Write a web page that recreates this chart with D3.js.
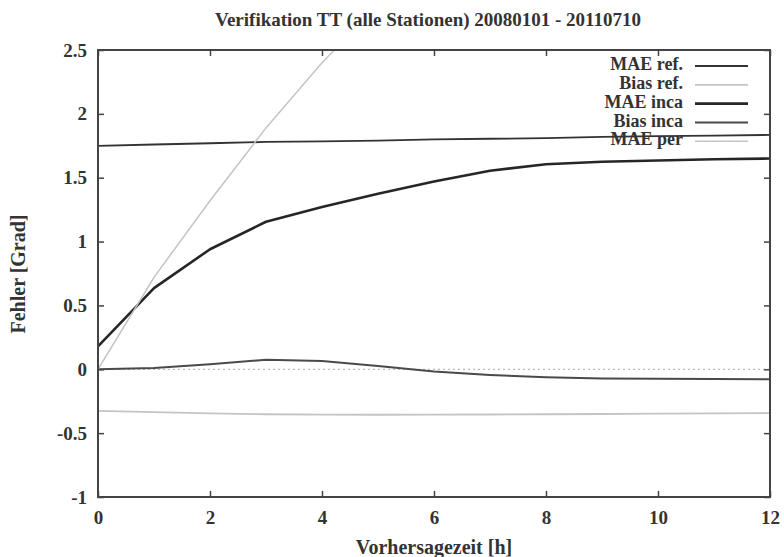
<!DOCTYPE html>
<html>
<head>
<meta charset="utf-8">
<script src="https://cdn.jsdelivr.net/npm/d3@7"></script>
<style>
  body { margin: 0; background: #fff; }
  text { font-family: "Liberation Serif", "DejaVu Serif", serif; font-weight: bold; fill: #333; }
</style>
</head>
<body>
<svg id="chart" width="784" height="557"></svg>
<script>
// Data - forecast hours and error values
const hours = [0, 1, 2, 3, 4, 5, 6, 7, 8, 9, 10, 11, 12];
const maeRef = [1.75, 1.76, 1.77, 1.78, 1.785, 1.79, 1.80, 1.805, 1.81, 1.82, 1.825, 1.83, 1.835];
const biasRef = [-0.325, -0.335, -0.345, -0.352, -0.355, -0.356, -0.355, -0.354, -0.352, -0.35, -0.347, -0.345, -0.343];
const maeInca = [0.18, 0.635, 0.94, 1.155, 1.27, 1.375, 1.47, 1.555, 1.605, 1.625, 1.635, 1.645, 1.65];
const biasInca = [0.0, 0.01, 0.04, 0.075, 0.065, 0.025, -0.018, -0.045, -0.063, -0.072, -0.075, -0.077, -0.078];
const perHours = [0, 1, 2, 3, 4, 5];
const maePer = [0.0, 0.72, 1.32, 1.89, 2.4, 2.85];

const xTicks = [0, 2, 4, 6, 8, 10, 12];
const yTicks = [-1, -0.5, 0, 0.5, 1, 1.5, 2, 2.5];

const series = [
    { name: "MAE ref.", x: hours, y: maeRef, color: "#333", width: 1.8 },
    { name: "Bias ref.", x: hours, y: biasRef, color: "#c4c4c4", width: 1.8 },
    { name: "MAE inca", x: hours, y: maeInca, color: "#262626", width: 2.6 },
    { name: "Bias inca", x: hours, y: biasInca, color: "#4a4a4a", width: 2 },
    { name: "MAE per", x: perHours, y: maePer, color: "#c4c4c4", width: 1.5 }
];

// Dimensions
const margin = { top: 50, right: 14, bottom: 60, left: 98 };
const width = 784 - margin.left - margin.right;
const height = 557 - margin.top - margin.bottom;

const svg = d3.select("#chart");
const g = svg.append("g").attr("transform", `translate(${margin.left},${margin.top})`);

const x = d3.scaleLinear().domain([0, 12]).range([0, width]);
const y = d3.scaleLinear().domain([-1, 2.5]).range([height, 0]);

svg.append("defs").append("clipPath").attr("id", "plot-clip")
    .append("rect").attr("width", width).attr("height", height);

// Zero line (dotted)
g.append("line")
    .attr("x1", 0).attr("x2", width)
    .attr("y1", y(0)).attr("y2", y(0))
    .attr("stroke", "#bbb")
    .attr("stroke-width", 1.2)
    .attr("stroke-dasharray", "2,3");

// Lines
const line = d3.line()
    .x(d => x(d[0]))
    .y(d => y(d[1]));

g.append("g").attr("clip-path", "url(#plot-clip)")
    .selectAll("path")
    .data(series)
    .join("path")
    .attr("fill", "none")
    .attr("stroke", d => d.color)
    .attr("stroke-width", d => d.width)
    .attr("stroke-linejoin", "round")
    .attr("d", d => line(d.x.map((h, i) => [h, d.y[i]])));

// Axes with inward ticks, mirrored on top and right
const tickLen = 6;
g.append("g")
    .attr("transform", `translate(0,${height})`)
    .call(d3.axisBottom(x).tickValues(xTicks).tickSize(-tickLen).tickPadding(14).tickFormat(d => String(d)))
    .call(a => a.select(".domain").remove());
g.append("g")
    .call(d3.axisTop(x).tickValues(xTicks).tickSize(-tickLen).tickFormat(""))
    .call(a => a.select(".domain").remove());
g.append("g")
    .call(d3.axisLeft(y).tickValues(yTicks).tickSize(-tickLen).tickPadding(11).tickFormat(d => String(d)))
    .call(a => a.select(".domain").remove());
g.append("g")
    .attr("transform", `translate(${width},0)`)
    .call(d3.axisRight(y).tickValues(yTicks).tickSize(-tickLen).tickFormat(""))
    .call(a => a.select(".domain").remove());

g.selectAll(".tick line").attr("stroke", "#444").attr("stroke-width", 1.5);
g.selectAll(".tick text")
    .attr("font-size", "19px")
    .attr("font-family", "'Liberation Serif', serif")
    .attr("fill", "#333");

// Frame
g.append("rect")
    .attr("width", width).attr("height", height)
    .attr("fill", "none")
    .attr("stroke", "#444")
    .attr("stroke-width", 2);

// Legend
const legend = g.append("g").attr("transform", `translate(${width - 87},16)`);
const rows = legend.selectAll("g")
    .data(series)
    .join("g")
    .attr("transform", (d, i) => `translate(0,${i * 18.8})`);
rows.append("text")
    .attr("x", 0)
    .attr("text-anchor", "end")
    .attr("dominant-baseline", "middle")
    .attr("font-size", "18px")
    .text(d => d.name);
rows.append("line")
    .attr("x1", 12).attr("x2", 65)
    .attr("stroke", d => d.color)
    .attr("stroke-width", d => d.width);

// Title and axis labels
svg.append("text")
    .attr("x", 428)
    .attr("y", 22)
    .attr("text-anchor", "middle")
    .attr("dominant-baseline", "middle")
    .attr("font-size", "19px")
    .text("Verifikation TT (alle Stationen) 20080101 - 20110710");

svg.append("text")
    .attr("x", margin.left + width / 2)
    .attr("y", 549)
    .attr("text-anchor", "middle")
    .attr("dominant-baseline", "middle")
    .attr("font-size", "20px")
    .text("Vorhersagezeit [h]");

svg.append("text")
    .attr("transform", `translate(20,274) rotate(-90)`)
    .attr("text-anchor", "middle")
    .attr("dominant-baseline", "middle")
    .attr("font-size", "20px")
    .text("Fehler [Grad]");
</script>
</body>
</html>
